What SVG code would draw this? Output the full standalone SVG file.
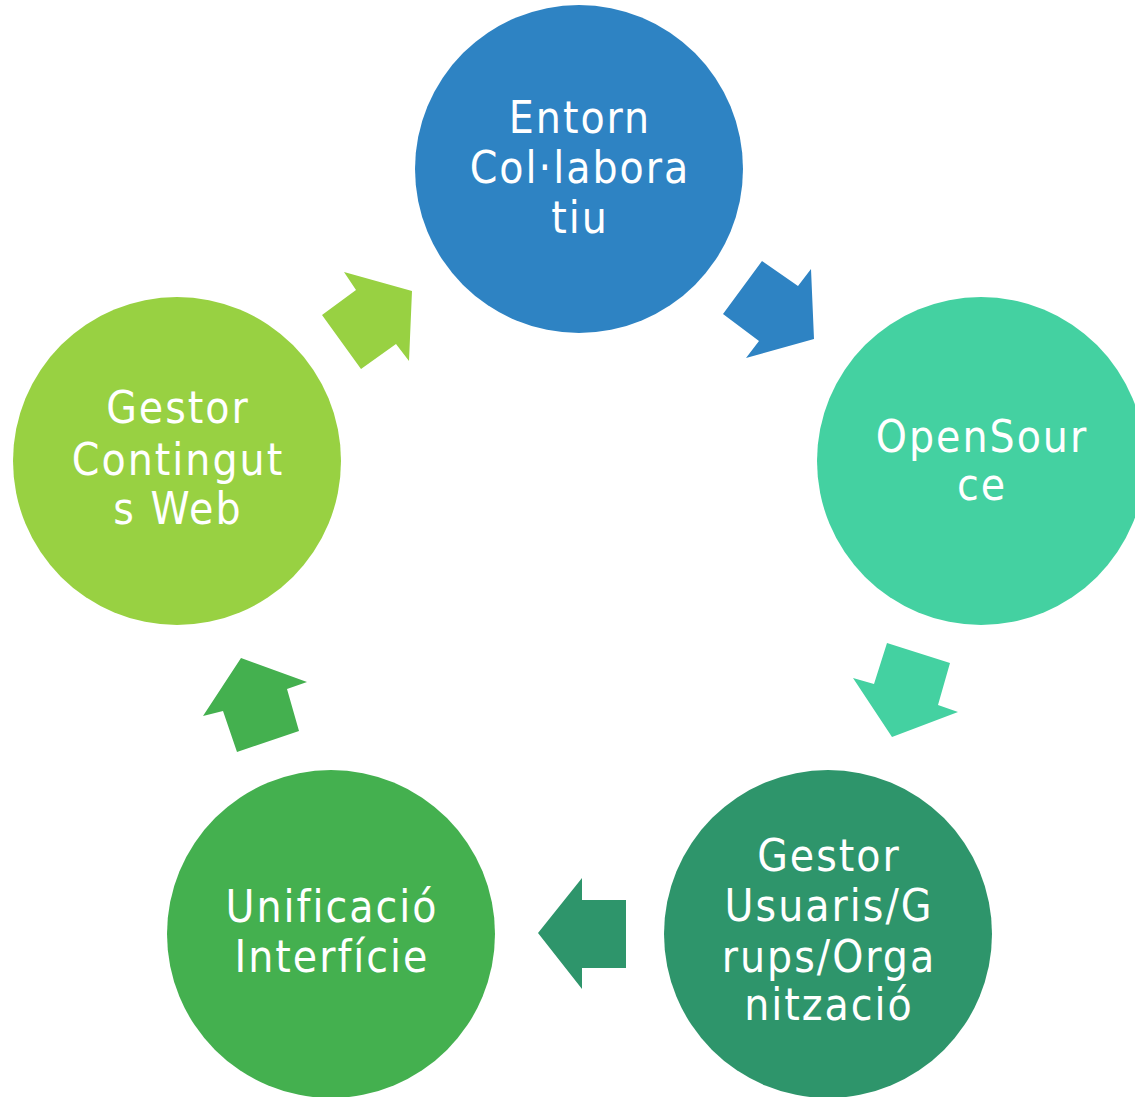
<svg xmlns="http://www.w3.org/2000/svg" width="1135" height="1097" viewBox="0 0 1135 1097">
<style>
.t{font-family:"DejaVu Sans","Liberation Sans",sans-serif;font-size:44px;fill:#ffffff;text-anchor:middle;font-stretch:condensed;letter-spacing:2px}
</style>
<rect width="1135" height="1097" fill="#ffffff"/>
<g id="connectors">
<polygon points="762,261 798,286 811,269 814,339 746,358 759,341 723,314" fill="#2E83C3"/>
<polygon points="887,643 950,663 938,705 958,712 892,737 853,678 874,684" fill="#44D1A1"/>
<polygon points="582,878 582,900 626,900 626,968 582,968 582,989 538,933" fill="#2E956B"/>
<polygon points="241,658 307,682 287,689 299,731 237,752 223,711 203,716" fill="#44B04F"/>
<polygon points="344,272 412,291 409,361 396,344 361,369 322,315 356,290" fill="#98D142"/>
</g>
<g id="node-entorn">
<circle cx="579" cy="169" r="164" fill="#2E83C3"/>
<text class="t" x="580" y="133">Entorn</text>
<text class="t" x="580" y="183">Col·labora</text>
<text class="t" x="580" y="233">tiu</text>
</g>
<g id="node-opensource">
<circle cx="981" cy="461" r="164" fill="#44D1A1"/>
<text class="t" x="982" y="452">OpenSour</text>
<text class="t" x="982" y="500">ce</text>
</g>
<g id="node-gestor-usuaris">
<circle cx="828" cy="934" r="164" fill="#2E956B"/>
<text class="t" x="829" y="871">Gestor</text>
<text class="t" x="829" y="921">Usuaris/G</text>
<text class="t" x="829" y="972">rups/Orga</text>
<text class="t" x="829" y="1020">nització</text>
</g>
<g id="node-unificacio">
<circle cx="331" cy="934" r="164" fill="#44B04F"/>
<text class="t" x="332" y="922">Unificació</text>
<text class="t" x="332" y="972">Interfície</text>
</g>
<g id="node-gestor-continguts">
<circle cx="177" cy="461" r="164" fill="#98D142"/>
<text class="t" x="178" y="423">Gestor</text>
<text class="t" x="178" y="475">Contingut</text>
<text class="t" x="178" y="524">s Web</text>
</g>
</svg>
